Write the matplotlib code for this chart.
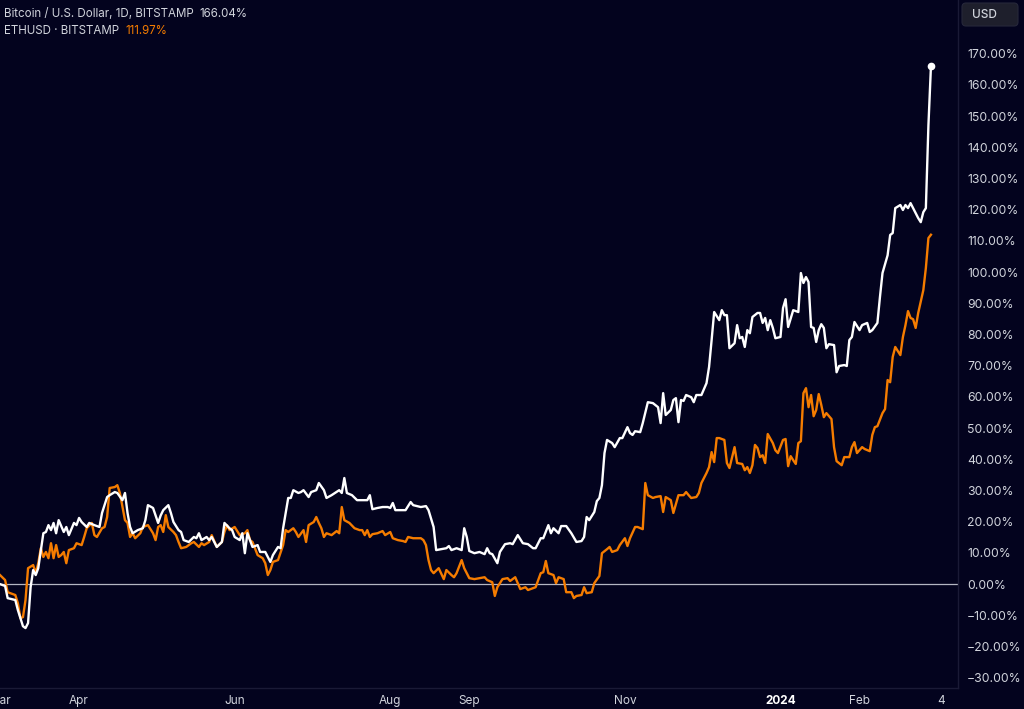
import numpy as np
import pandas as pd
import matplotlib
matplotlib.use("Agg")
import matplotlib.pyplot as plt
from matplotlib.patches import FancyBboxPatch

plt.rcParams['font.family'] = ['Inter', 'DejaVu Sans']

start = "2023-03-01"

btc_day = [0, 2, 3, 6, 7, 9, 10, 11, 12, 13, 14, 15, 17, 18, 19, 20, 21, 22, 23, 25, 26, 27, 29, 30,
           31, 32, 34, 35, 37, 39, 40, 42, 43, 45, 46, 48, 49, 50, 51, 52, 54, 56, 57, 58, 60, 62,
           63, 64, 66, 67, 68, 70, 71, 72, 74, 76, 77, 78, 79, 81, 82, 83, 85, 87, 88, 90, 91, 92,
           94, 95, 96, 97, 99, 101, 102, 104, 106, 107, 109, 110, 111, 113, 114, 115, 117, 118, 119,
           121, 122, 124, 125, 127, 128, 130, 133, 134, 135, 136, 138, 140, 142, 144, 145, 146, 148,
           150, 152, 153, 154, 155, 157, 159, 161, 162, 165, 167, 168, 170, 171, 173, 175, 176, 177,
           179, 181, 182, 183, 184, 186, 188, 190, 191, 192, 193, 195, 196, 198, 200, 201, 203, 205,
           207, 209, 210, 212, 213, 215, 216, 217, 219, 220, 222, 224, 226, 228, 229, 230, 231, 233,
           234, 235, 236, 237, 238, 240, 241, 243, 244, 246, 247, 248, 249, 251, 252, 254, 256, 258,
           259, 260, 261, 263, 264, 265, 266, 267, 268, 269, 271, 272, 273, 275, 277, 278, 279, 280,
           282, 283, 284, 285, 286, 288, 289, 290, 291, 292, 293, 294, 295, 297, 298, 299, 300, 301,
           302, 303, 304, 306, 307, 308, 309, 311, 313, 314, 315, 316, 317, 318, 319, 320, 321, 322,
           323, 324, 325, 327, 328, 329, 331, 332, 333, 334, 335, 337, 338, 340, 341, 342, 344, 345,
           346, 348, 349, 350, 351, 353, 354, 355, 356, 357, 358, 360, 361, 362, 363, 364, 365]
btc_pct = [0.0, -0.6, -4.5, -5.1, -8.3, -13.5, -14.1, -12.5, -1.0, 4.5, 2.9, 5.1, 16.3, 16.7, 18.9,
           17.3, 19.6, 16.3, 20.5, 16.7, 18.3, 15.7, 19.6, 18.9, 21.2, 19.9, 18.3, 19.6, 18.9, 18.3,
           22.8, 27.9, 28.5, 29.5, 29.2, 26.9, 29.2, 22.8, 18.3, 16.3, 17.3, 17.9, 20.5, 25.3, 24.4,
           19.6, 22.0, 23.7, 25.3, 22.8, 19.9, 17.3, 16.7, 14.1, 13.5, 15.1, 14.7, 16.3, 14.1, 15.1,
           14.1, 15.1, 11.9, 13.5, 19.6, 17.9, 17.3, 15.1, 14.1, 16.3, 9.9, 16.3, 11.9, 12.5, 10.3,
           10.3, 7.1, 9.3, 11.9, 11.5, 17.9, 27.6, 27.6, 30.1, 29.2, 29.5, 30.1, 27.9, 29.5, 30.1,
           32.4, 30.1, 27.6, 28.5, 30.1, 29.2, 34.0, 29.2, 28.5, 26.9, 26.9, 26.9, 28.5, 24.0, 24.4,
           24.7, 24.7, 24.4, 26.0, 23.7, 23.7, 23.7, 26.3, 25.3, 24.7, 25.0, 23.7, 18.3, 10.9, 11.2,
           11.5, 12.2, 10.9, 11.5, 10.9, 17.9, 15.1, 10.6, 9.9, 10.3, 9.6, 11.5, 9.9, 9.6, 6.7, 10.3,
           12.8, 13.1, 12.8, 15.7, 13.1, 12.8, 11.5, 11.5, 14.7, 14.7, 18.9, 16.3, 17.9, 16.3, 18.6,
           18.6, 16.3, 13.5, 13.8, 15.1, 21.5, 20.5, 23.1, 26.6, 27.6, 31.7, 42.0, 46.2, 45.2, 43.9,
           46.8, 46.8, 50.3, 48.4, 47.8, 49.0, 48.7, 51.6, 58.3, 58.0, 56.7, 51.6, 61.2, 54.2, 55.8,
           59.0, 59.6, 51.9, 59.0, 58.7, 60.6, 59.9, 58.3, 60.6, 60.6, 64.4, 69.6, 78.2, 87.2, 84.6,
           87.8, 86.2, 86.2, 75.6, 77.2, 83.0, 78.8, 79.2, 76.0, 81.4, 80.4, 85.6, 86.9, 86.9, 83.7,
           85.3, 81.4, 84.6, 82.1, 78.8, 79.2, 88.5, 91.3, 82.4, 87.8, 87.2, 99.7, 96.5, 98.4, 96.8,
           82.4, 82.1, 77.6, 81.4, 83.3, 82.1, 75.6, 76.9, 76.6, 67.9, 69.9, 70.2, 69.9, 78.2, 79.2,
           84.0, 81.4, 83.0, 83.7, 80.8, 81.4, 83.7, 92.0, 99.7, 105.4, 111.9, 112.5, 120.5, 121.5,
           119.9, 121.5, 120.5, 122.1, 120.5, 117.3, 116.0, 119.2, 120.5, 147.0, 166.04]

eth_day = [0, 2, 3, 4, 6, 7, 8, 9, 10, 11, 13, 14, 15, 16, 17, 18, 19, 20, 21, 22, 23, 24, 25, 26,
           27, 29, 30, 32, 33, 34, 36, 37, 38, 40, 41, 42, 43, 45, 46, 47, 49, 50, 51, 52, 53, 55,
           56, 58, 60, 61, 62, 63, 64, 65, 66, 68, 69, 70, 71, 73, 75, 76, 78, 79, 80, 82, 83, 85,
           87, 88, 89, 90, 92, 94, 96, 97, 98, 99, 101, 103, 104, 105, 106, 107, 109, 111, 112, 113,
           115, 116, 117, 119, 120, 121, 123, 124, 125, 126, 127, 128, 130, 132, 133, 134, 135, 137,
           139, 141, 142, 143, 144, 145, 146, 148, 150, 151, 153, 154, 156, 158, 159, 160, 162, 165,
           166, 167, 168, 169, 170, 172, 174, 175, 177, 178, 179, 181, 182, 184, 186, 188, 190, 191,
           193, 194, 195, 197, 199, 200, 202, 204, 206, 207, 210, 212, 213, 214, 215, 217, 218, 219,
           221, 222, 224, 225, 226, 228, 229, 230, 232, 233, 235, 236, 238, 239, 240, 242, 243, 245,
           246, 247, 249, 250, 252, 253, 254, 256, 257, 259, 260, 261, 263, 264, 266, 268, 269, 270,
           271, 273, 274, 275, 277, 278, 279, 280, 281, 282, 284, 285, 286, 288, 289, 291, 292, 293,
           294, 295, 296, 297, 298, 299, 300, 301, 303, 304, 305, 307, 308, 309, 310, 311, 312, 313,
           314, 315, 316, 317, 318, 319, 320, 321, 322, 323, 324, 326, 327, 328, 330, 331, 333, 334,
           335, 336, 338, 339, 341, 342, 343, 344, 346, 347, 348, 349, 350, 351, 353, 354, 355, 356,
           357, 358, 359, 360, 362, 363, 364, 365]
eth_pct = [2.9, 1.3, -2.6, -2.9, -3.5, -6.1, -10.9, -10.6, -5.1, 5.1, 6.1, 3.5, 6.7, 11.5, 8.7,
           10.3, 8.3, 13.1, 8.3, 12.5, 8.7, 9.3, 10.3, 6.7, 10.9, 11.5, 13.1, 12.5, 15.1, 17.9, 19.6,
           15.7, 15.1, 17.9, 18.3, 21.5, 30.8, 31.1, 31.7, 29.2, 20.5, 19.6, 15.1, 16.3, 14.7, 16.3,
           18.3, 18.9, 16.3, 14.1, 18.3, 18.9, 16.7, 22.1, 18.3, 16.7, 15.7, 13.5, 11.5, 11.9, 13.1,
           13.5, 11.9, 13.1, 12.5, 13.5, 15.7, 11.9, 13.5, 16.7, 18.9, 17.3, 18.3, 15.7, 16.3, 17.3,
           14.1, 13.5, 9.3, 8.3, 6.7, 2.9, 4.5, 7.1, 7.7, 12.5, 17.3, 16.7, 17.9, 16.7, 15.1, 17.3,
           13.5, 18.9, 19.9, 21.5, 19.6, 17.9, 15.1, 16.3, 15.7, 17.0, 16.3, 24.7, 20.5, 19.6, 17.9,
           17.3, 17.3, 15.7, 17.3, 15.1, 16.0, 16.3, 17.0, 15.7, 16.7, 14.7, 14.1, 13.8, 13.5, 15.1,
           14.7, 14.7, 14.1, 12.5, 7.7, 4.5, 3.5, 5.1, 1.6, 4.5, 2.9, 2.2, 3.5, 7.7, 5.1, 1.9, 1.6,
           1.9, 2.2, 1.3, 0.6, -3.8, -1.0, 1.6, 1.9, 1.0, 2.2, -1.6, -1.0, -1.9, -1.0, 3.5, 3.8, 7.4,
           3.5, 2.9, 0.3, 2.2, 1.6, -2.6, -2.6, -4.5, -3.8, -3.5, -1.0, -2.9, -2.6, 0.3, 2.6, 9.9,
           11.2, 11.9, 10.3, 10.9, 12.5, 14.7, 12.2, 14.7, 18.3, 18.3, 17.6, 32.4, 28.5, 27.6, 27.9,
           28.2, 23.1, 27.9, 26.9, 22.8, 28.5, 28.5, 29.5, 28.5, 27.6, 27.9, 29.2, 32.4, 35.6, 37.5,
           42.3, 39.1, 46.8, 46.8, 46.2, 38.8, 37.2, 43.9, 38.8, 38.5, 36.5, 37.5, 35.6, 38.1, 44.6,
           43.6, 40.7, 41.3, 38.8, 48.1, 45.2, 42.9, 42.0, 46.2, 46.5, 37.8, 41.0, 39.7, 38.5, 45.2,
           45.8, 61.2, 62.8, 56.7, 60.6, 53.8, 55.8, 60.9, 57.4, 53.5, 54.8, 52.9, 43.9, 39.4, 38.1,
           40.7, 40.7, 43.9, 45.5, 42.0, 43.9, 43.3, 42.6, 47.8, 50.3, 50.6, 54.8, 56.1, 65.4, 64.7,
           72.8, 76.0, 73.4, 79.2, 83.0, 87.5, 85.3, 84.9, 82.1, 86.9, 94.2, 101.3, 110.9, 111.97]

y_ticks = list(range(-30, 171, 10))
x_tick_dates = ["2023-03-01", "2023-04-01", "2023-06-01", "2023-08-01", "2023-09-01",
                "2023-11-01", "2024-01-01", "2024-02-01", "2024-03-04"]
x_tick_labels = ["Mar", "Apr", "Jun", "Aug", "Sep", "Nov", "2024", "Feb", "4"]

BG = "#03031e"
TXT = "#d1d4dc"
ORANGE = "#f57c00"

W, H = 1024, 709
fig = plt.figure(figsize=(W / 100, H / 100), dpi=100, facecolor=BG)
ax = fig.add_axes([0, 21 / H, 958 / W, 688 / H])
ax.set_facecolor(BG)

t0 = pd.Timestamp(start)
btc_dates = t0 + pd.to_timedelta(btc_day, unit="D")
eth_dates = t0 + pd.to_timedelta(eth_day, unit="D")

ax.axhline(0, color="#b4b6c2", lw=0.9, zorder=1)
ax.plot(eth_dates, eth_pct, color=ORANGE, lw=1.7, zorder=2, solid_joinstyle="round")
ax.plot(btc_dates, btc_pct, color="white", lw=1.7, zorder=3, solid_joinstyle="round")
ax.plot(btc_dates[-1:], btc_pct[-1:], "o", color="white", ms=4.5, zorder=4)

ax.set_xlim(t0 + pd.Timedelta(days=0.39), t0 + pd.Timedelta(days=375.6))
ax.set_ylim(-33.3, 187.2)

ax.yaxis.tick_right()
ax.set_yticks(y_ticks)
ax.set_yticklabels([("\u2212" if v < 0 else "") + f"{abs(v):.2f}%" for v in y_ticks])
ax.tick_params(axis="y", length=0, pad=6.5, labelsize=8.8, labelcolor=TXT)

ax.set_xticks(pd.to_datetime(x_tick_dates))
ax.set_xticklabels(x_tick_labels)
ax.tick_params(axis="x", length=0, pad=5, labelsize=8.5, labelcolor=TXT)
for lbl in ax.get_xticklabels():
    if lbl.get_text() == "2024":
        lbl.set_fontweight("bold")
        lbl.set_color("white")

for s in ["top", "left"]:
    ax.spines[s].set_visible(False)
for s in ["right", "bottom"]:
    ax.spines[s].set_color("#1a1a36")
    ax.spines[s].set_linewidth(1)

# legend texts
fig.text(4 / W, 1 - 14 / H, "Bitcoin / U.S. Dollar, 1D, BITSTAMP", color=TXT, fontsize=8.3, va="center")
fig.text(199 / W, 1 - 14 / H, "166.04%", color=TXT, fontsize=8.3, va="center")
fig.text(4 / W, 1 - 31 / H, "ETHUSD \u00b7 BITSTAMP", color=TXT, fontsize=8.3, va="center")
fig.text(125 / W, 1 - 31 / H, "111.97%", color=ORANGE, fontsize=8.3, va="center")

# USD box
box = FancyBboxPatch((962, H - 26), 56, 23, boxstyle="round,pad=0,rounding_size=4",
                     transform=None, facecolor="#1e1f2c", edgecolor="#26273a", lw=0.8)
fig.add_artist(box)
fig.text(984 / W, 1 - 14.5 / H, "USD", color=TXT, fontsize=8.5, ha="center", va="center",
         fontweight="medium")

fig.savefig("out.png", dpi=100, facecolor=BG)
